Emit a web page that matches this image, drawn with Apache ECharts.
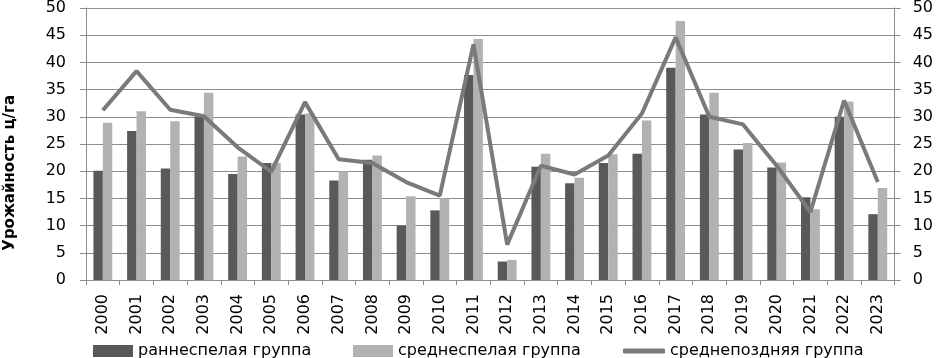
<!DOCTYPE html>
<html>
<head>
<meta charset="utf-8">
<script src="https://cdn.jsdelivr.net/npm/echarts@6/dist/echarts.min.js"></script>
<style>
  html, body { margin: 0; padding: 0; background: #fff; }
  #main { width: 936px; height: 358px; }
</style>
</head>
<body>
<div id="main"></div>
<script>
var years = ['2000', '2001', '2002', '2003', '2004', '2005', '2006', '2007', '2008', '2009', '2010', '2011',
    '2012', '2013', '2014', '2015', '2016', '2017', '2018', '2019', '2020', '2021', '2022', '2023'];
// раннеспелая группа
var early = [20.1, 27.4, 20.5, 30.0, 19.5, 21.5, 30.4, 18.3, 22.1, 10.0, 12.8, 37.7,
    3.4, 20.8, 17.8, 21.5, 23.2, 39.0, 30.4, 24.0, 20.7, 15.2, 30.0, 12.1];
// среднеспелая группа
var middle = [28.9, 31.0, 29.2, 34.4, 22.7, 21.5, 30.6, 20.0, 22.9, 15.4, 15.0, 44.3,
    3.7, 23.2, 18.8, 23.1, 29.3, 47.6, 34.4, 25.2, 21.6, 13.0, 32.8, 16.9];
// среднепоздняя группа
var late = [31.2, 38.4, 31.3, 30.1, 24.4, 19.9, 32.7, 22.2, 21.5, 18.0, 15.5, 43.3,
    6.5, 21.0, 19.4, 22.9, 30.6, 44.6, 30.0, 28.6, 21.0, 12.5, 33.0, 18.0];
var seriesNames = ['раннеспелая группа', 'среднеспелая группа', 'среднепоздняя группа'];

var font = 'DejaVu Sans';
var axisGray = '#8c8c8c';

var myChart = echarts.init(document.getElementById('main'));

function yAxisCfg(pos) {
    return {
        type: 'value',
        position: pos,
        min: 0,
        max: 50,
        interval: 5,
        axisLine: { show: true, lineStyle: { color: axisGray, width: 1 } },
        axisTick: { show: true, length: 6, lineStyle: { color: axisGray } },
        axisLabel: { color: '#000', fontFamily: font, fontSize: 16, margin: pos === 'left' ? 20 : 18 },
        splitLine: { show: pos === 'left', lineStyle: { color: axisGray, width: 1 } }
    };
}

var legendBase = {
    top: 338,
    itemWidth: 40,
    itemHeight: 12,
    textStyle: { fontFamily: font, fontSize: 16, color: '#000' },
    selectedMode: false
};

var options = {
    animation: false,
    backgroundColor: '#fff',
    grid: { left: 86, right: 40, top: 7, bottom: 78 },
    legend: [
        Object.assign({}, legendBase, { left: 88, data: [{ name: seriesNames[0], icon: 'rect' }] }),
        Object.assign({}, legendBase, { left: 348, data: [{ name: seriesNames[1], icon: 'rect' }] }),
        Object.assign({}, legendBase, { left: 618, itemWidth: 42, itemHeight: 5,
            data: [{ name: seriesNames[2], icon: 'roundRect' }] })
    ],
    xAxis: {
        type: 'category',
        data: years,
        axisLine: { lineStyle: { color: axisGray } },
        axisTick: { show: true, length: 5, lineStyle: { color: axisGray } },
        axisLabel: { rotate: 90, color: '#000', fontFamily: font, fontSize: 16, margin: 14 }
    },
    yAxis: [yAxisCfg('left'), yAxisCfg('right')],
    // подпись оси
    graphic: [{
        type: 'text',
        left: 3,
        top: 95,
        rotation: Math.PI / 2,
        style: { text: 'Урожайность ц/га', font: 'bold 15px "DejaVu Sans"', fill: '#000' }
    }],
    series: [{
        name: seriesNames[0],
        type: 'bar',
        data: early,
        barGap: '0%',
        barCategoryGap: '44%',
        itemStyle: { color: '#595959' }
    }, {
        name: seriesNames[1],
        type: 'bar',
        data: middle,
        itemStyle: { color: '#b2b2b2' }
    }, {
        name: seriesNames[2],
        type: 'line',
        data: late,
        symbol: 'none',
        lineStyle: { color: '#7a7a7a', width: 4 },
        itemStyle: { color: '#7a7a7a' }
    }]
};
myChart.setOption(options);
</script>
</body>
</html>
